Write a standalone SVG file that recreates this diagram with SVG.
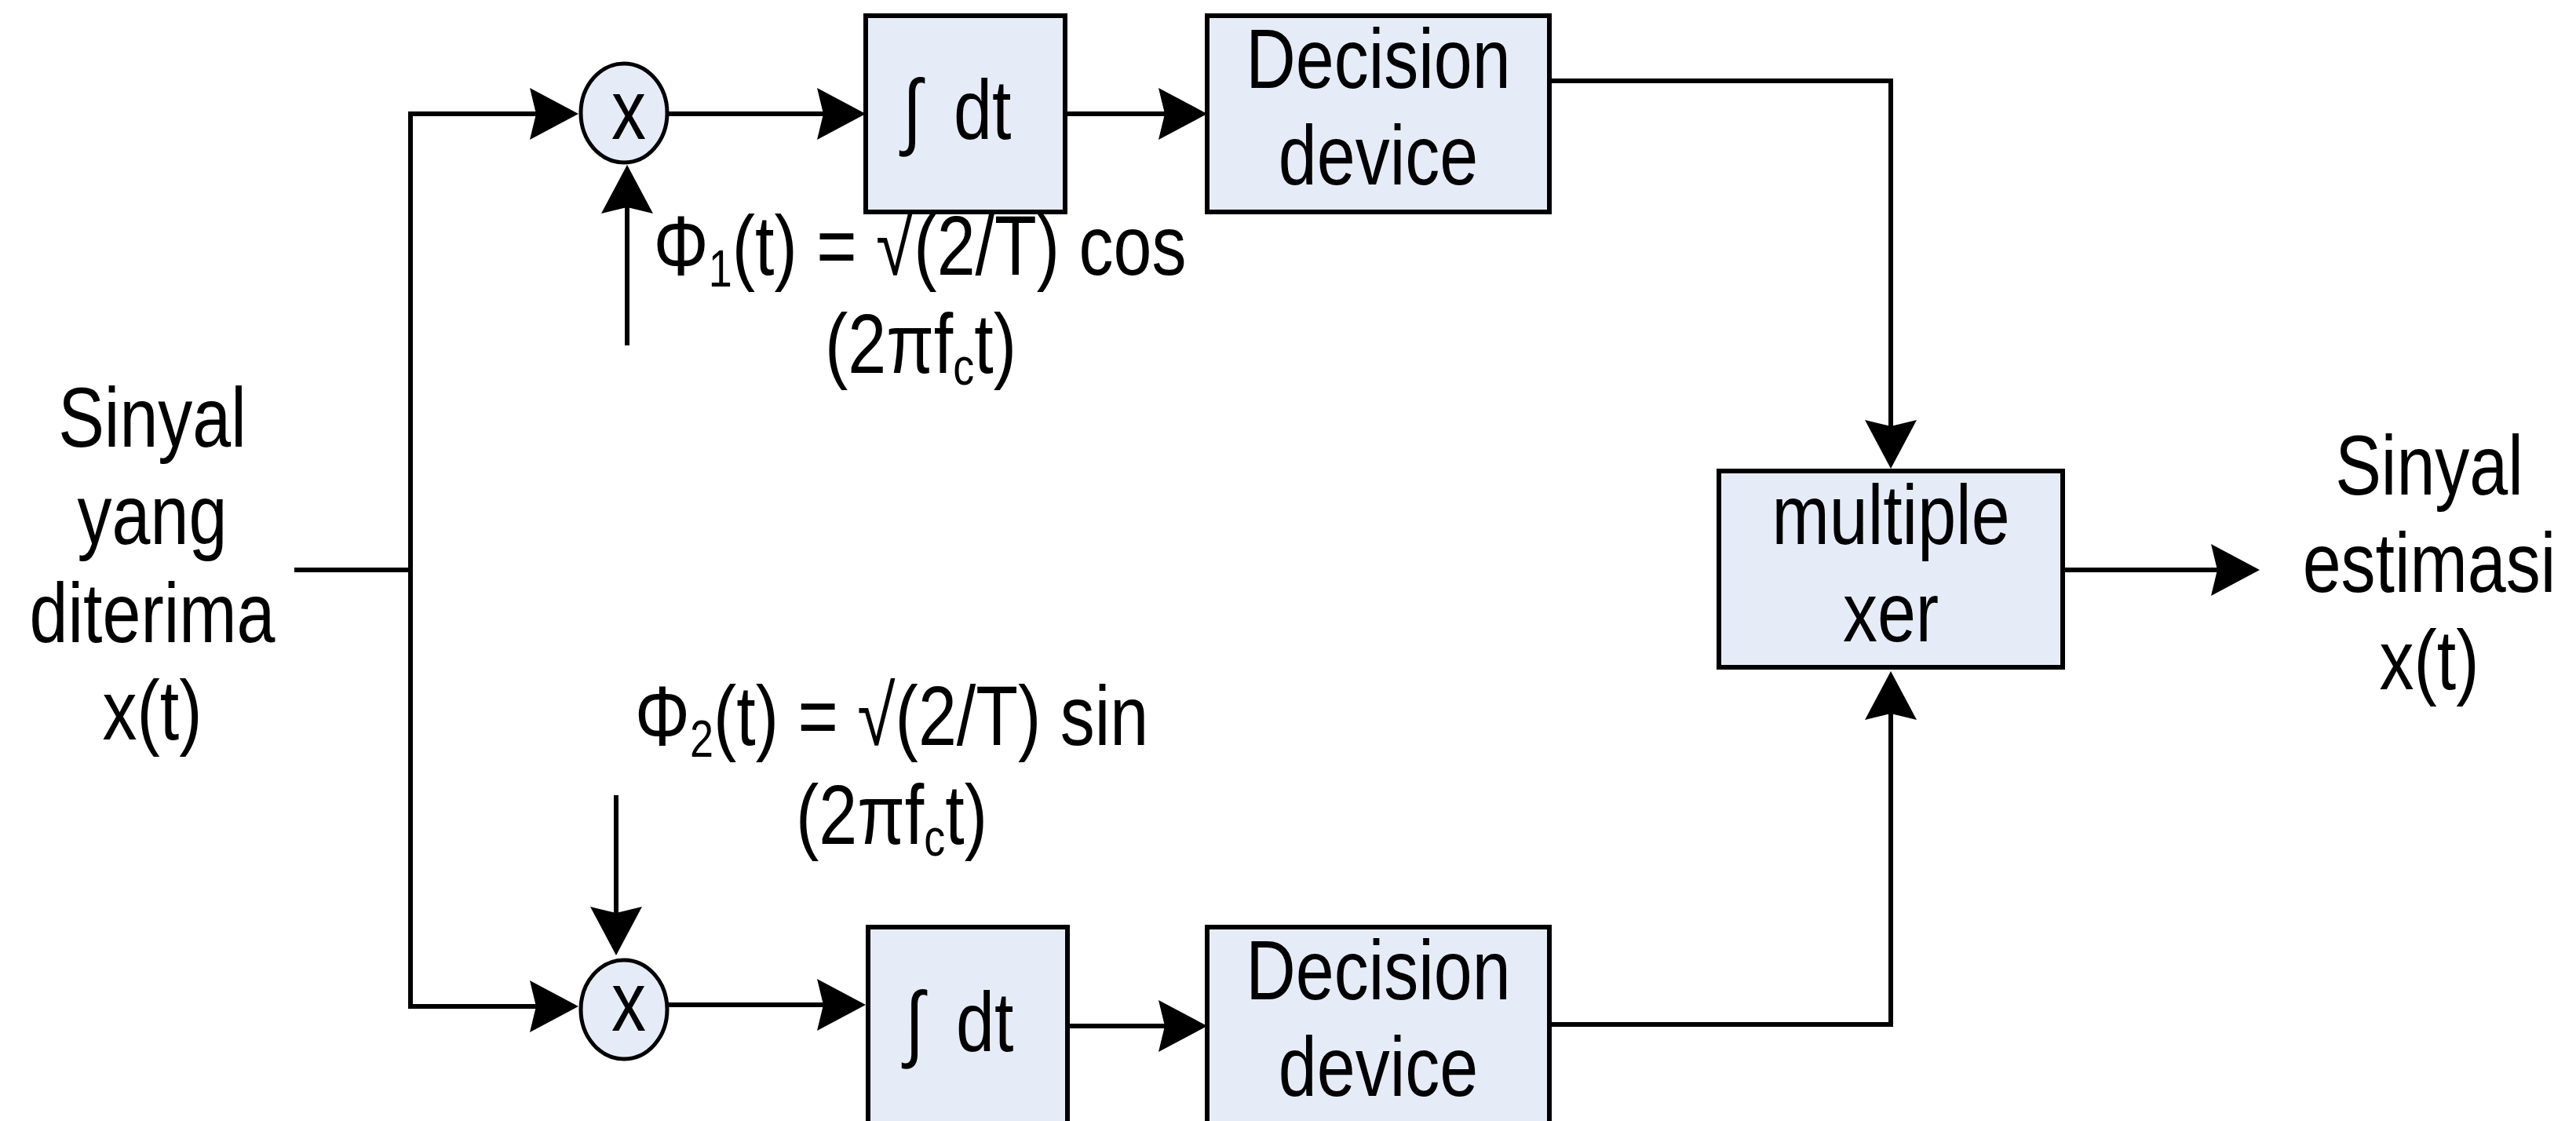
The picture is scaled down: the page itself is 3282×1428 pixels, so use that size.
<svg xmlns="http://www.w3.org/2000/svg" width="3282" height="1428" viewBox="0 0 3282 1428">
<defs>
<style>
.t{font-family:"Liberation Sans",Arial,sans-serif;font-size:88px;fill:#000}
.sub{font-size:54px}
.box{fill:#E6ECF7;stroke:#000;stroke-width:6}
.mul{fill:#E6ECF7;stroke:#000;stroke-width:5}
.ln{fill:none;stroke:#000;stroke-width:6}
.ar{fill:none;stroke:#000;stroke-width:6;marker-end:url(#ah)}
</style>
<marker id="ah" markerUnits="userSpaceOnUse" viewBox="0 0 70 70" markerWidth="70" markerHeight="70" refX="42" refY="35" orient="auto">
<path d="M62,35 L0,2 L8,35 L0,68 Z" fill="#000"/>
</marker>
</defs>
<rect width="3282" height="1428" fill="#fff"/>

<g id="connectors">
<path class="ln" d="M375,726 H523"/>
<path class="ar" d="M523,726 V145 H717"/>
<path class="ar" d="M523,726 V1282 H717"/>
<path class="ar" d="M850,145 H1083"/>
<path class="ar" d="M1357,145 H1518"/>
<path class="ar" d="M1974,103 H2409 V577"/>
<path class="ar" d="M799,440 V230"/>
<path class="ar" d="M785,1013 V1197"/>
<path class="ar" d="M850,1280 H1083"/>
<path class="ar" d="M1360,1307 H1518"/>
<path class="ar" d="M1974,1305 H2409 V875"/>
<path class="ar" d="M2628,726 H2859"/>
</g>

<g id="input-label">
<text class="t" text-anchor="middle" transform="matrix(1 0 0 1.22 194 569)"><tspan x="0" y="0">Sinyal</tspan><tspan x="0" dy="102">yang</tspan><tspan x="0" dy="102">diterima</tspan><tspan x="0" dy="102">x(t)</tspan></text>
</g>

<g id="mult1">
<ellipse class="mul" cx="795" cy="144" rx="55" ry="63"/>
<text class="t" text-anchor="middle" transform="matrix(1 0 0 1.22 801 177)">x</text>
</g>

<g id="phi1-label">
<text class="t" text-anchor="middle" transform="matrix(1 0 0 1.22 1172 350)">Φ<tspan class="sub" dy="12">1</tspan><tspan dy="-12">(t) = √(2/T) cos</tspan></text>
<text class="t" text-anchor="middle" transform="matrix(1 0 0 1.22 1173 475)">(2πf<tspan class="sub" dy="12">c</tspan><tspan dy="-12">t)</tspan></text>
</g>

<g id="int1">
<rect class="box" x="1103" y="20" width="254" height="250"/>
<text class="t" transform="matrix(1 0 0 1.22 1150 177)">∫ <tspan x="65">dt</tspan></text>
</g>

<g id="dec1">
<rect class="box" x="1538" y="20" width="436" height="250"/>
<text class="t" text-anchor="middle" transform="matrix(1 0 0 1.22 1756 112)"><tspan x="0" y="0">Decision</tspan><tspan x="0" dy="101">device</tspan></text>
</g>

<g id="phi2-label">
<text class="t" text-anchor="middle" transform="matrix(1 0 0 1.22 1136 949)">Φ<tspan class="sub" dy="12">2</tspan><tspan dy="-12">(t) = √(2/T) sin</tspan></text>
<text class="t" text-anchor="middle" transform="matrix(1 0 0 1.22 1136 1075)">(2πf<tspan class="sub" dy="12">c</tspan><tspan dy="-12">t)</tspan></text>
</g>

<g id="mult2">
<ellipse class="mul" cx="795" cy="1286" rx="55" ry="63"/>
<text class="t" text-anchor="middle" transform="matrix(1 0 0 1.22 801 1313)">x</text>
</g>

<g id="int2">
<rect class="box" x="1106" y="1181" width="254" height="260"/>
<text class="t" transform="matrix(1 0 0 1.22 1153 1339)">∫ <tspan x="65">dt</tspan></text>
</g>

<g id="dec2">
<rect class="box" x="1538" y="1181" width="436" height="260"/>
<text class="t" text-anchor="middle" transform="matrix(1 0 0 1.22 1756 1273)"><tspan x="0" y="0">Decision</tspan><tspan x="0" dy="101">device</tspan></text>
</g>

<g id="mux">
<rect class="box" x="2190" y="600" width="438" height="250"/>
<text class="t" text-anchor="middle" transform="matrix(1 0 0 1.22 2409 693)"><tspan x="0" y="0">multiple</tspan><tspan x="0" dy="101.6">xer</tspan></text>
</g>

<g id="output-label">
<text class="t" text-anchor="middle" transform="matrix(1 0 0 1.22 3095 630)"><tspan x="0" y="0">Sinyal</tspan><tspan x="0" dy="101.6">estimasi</tspan><tspan x="0" dy="101.6">x(t)</tspan></text>
</g>
</svg>
